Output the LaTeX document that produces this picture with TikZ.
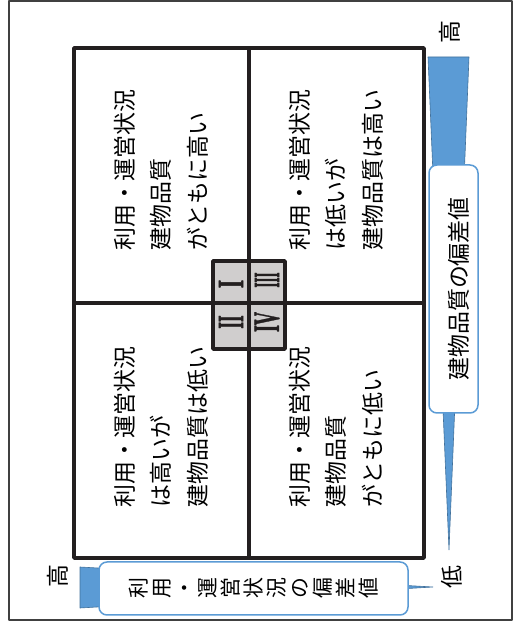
\documentclass[tikz,border=0pt]{standalone}
\usepackage{fontspec}
\newfontfamily\jpfont{Noto Sans CJK JP}
\newfontfamily\numfont[FakeBold=1.5]{Liberation Serif}
\definecolor{axisblue}{HTML}{5B9BD5}
\definecolor{axisedge}{HTML}{41719C}
\definecolor{boxgray}{HTML}{D0CECE}
\definecolor{gridblack}{HTML}{231F20}
\tikzset{
  celltext/.style={rotate=90,align=left,inner sep=0pt,font=\jpfont\fontsize{23}{36.5}\selectfont},
  numtext/.style={rotate=90,inner sep=0pt,text=gridblack,font=\numfont\bfseries\fontsize{37}{37}\selectfont},
  axistext/.style={rotate=90,inner sep=0pt,font=\jpfont\fontsize{23}{24}\selectfont},
  axisbox/.style={rotate=90,draw=axisblue,fill=white,line width=1.5bp,rounded corners=8bp,inner sep=0pt},
  wedge/.style={fill=axisblue,draw=axisedge,line width=0.6bp},
  gridline/.style={draw=gridblack,line width=3.6bp},
}
\begin{document}
\begin{tikzpicture}[>=latex,line join=bevel,]
%%
\useasboundingbox (0bp,0bp) rectangle (525bp,632bp);
\draw [draw=black!75,line width=1.2bp] (9bp,12bp) rectangle (512bp,631bp);
%% centre squares
\draw [gridline,fill=boxgray] (213bp,283bp) rectangle (285bp,371bp);
%% quadrants
\draw [gridline] (74bp,74bp) rectangle (424bp,584bp);
  \draw [gridline] (249bp,74bp) -- (249bp,584bp);
  \draw [gridline] (74bp,329bp) -- (424bp,329bp);
%% axes
\draw [wedge] (428bp,575bp) -- (469bp,575bp) -- (449bp,82bp) -- cycle;
  \draw [wedge] (80bp,65bp) -- (80bp,24bp) -- (433bp,45bp) -- cycle;
%%
\node (cell_1) at (161bp,462bp) [celltext] {利用・運営状況\\建物品質\\がともに高い};
  \node (cell_3) at (336bp,462bp) [celltext] {利用・運営状況\\は低いが\\建物品質は高い};
  \node (cell_2) at (161bp,205bp) [celltext] {利用・運営状況\\は高いが\\建物品質は低い};
  \node (cell_4) at (336bp,205bp) [celltext] {利用・運営状況\\建物品質\\がともに低い};
  \node (num_1) at (231bp,348bp) [numtext] {\scalebox{0.57}[1]{I}};
  \node (num_3) at (267bp,352bp) [numtext] {\scalebox{0.35}[1]{III}};
  \node (num_2) at (231bp,310bp) [numtext] {\scalebox{0.46}[1]{II}};
  \node (num_4) at (267bp,310bp) [numtext] {\scalebox{0.49}[1]{IV}};
  \node (axis_y) at (453.5bp,343bp) [axisbox,minimum width=248bp,minimum height=49bp] {};
  \node (label_y) at (459bp,343bp) [axistext] {建物品質の偏差値};
  \node (axis_x) at (253.5bp,43.5bp) [axisbox,minimum width=53bp,minimum height=309bp,align=center,font=\jpfont\fontsize{21}{23.1}\selectfont] {利\\用\\・\\運\\営\\状\\況\\の\\偏\\差\\値};
  \node (high_y) at (450bp,600bp) [axistext] {高};
  \node (low_y) at (452bp,55bp) [axistext] {低};
  \node (high_x) at (58bp,56bp) [axistext] {高};
%
\end{tikzpicture}
\end{document}
